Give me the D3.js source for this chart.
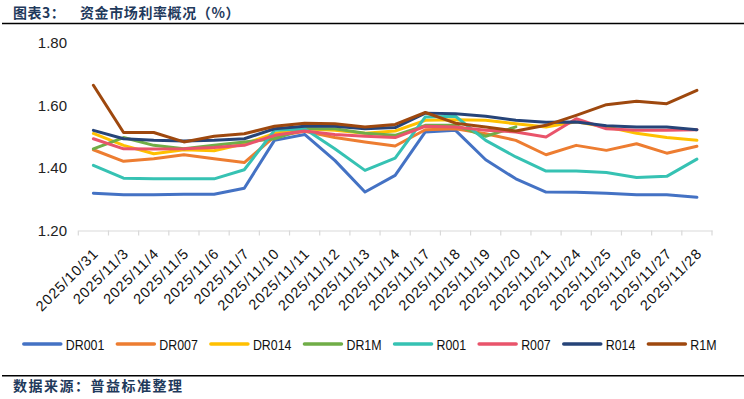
<!DOCTYPE html>
<html><head><meta charset="utf-8">
<script src="https://cdn.jsdelivr.net/npm/d3@7/dist/d3.min.js"></script>
<style>
body{margin:0;background:#fff;}
svg{display:block;}
</style></head>
<body>
<svg id="chart" width="744" height="399"></svg>
<script>
const categories = ["2025/10/31","2025/11/3","2025/11/4","2025/11/5","2025/11/6","2025/11/7","2025/11/10","2025/11/11","2025/11/12","2025/11/13","2025/11/14","2025/11/17","2025/11/18","2025/11/19","2025/11/20","2025/11/21","2025/11/24","2025/11/25","2025/11/26","2025/11/27","2025/11/28"];
const seriesNames = ["DR001","DR007","DR014","DR1M","R001","R007","R014","R1M"];
const DR001 = [1.319,1.314,1.314,1.316,1.316,1.335,1.488,1.507,1.424,1.323,1.376,1.515,1.520,1.426,1.365,1.323,1.322,1.319,1.314,1.314,1.306];
const DR007 = [1.458,1.421,1.429,1.442,1.429,1.417,1.500,1.517,1.497,1.483,1.470,1.522,1.525,1.509,1.488,1.442,1.472,1.456,1.477,1.447,1.469];
const DR014 = [1.510,1.472,1.445,1.458,1.455,1.477,1.510,1.525,1.520,1.511,1.518,1.552,1.554,1.552,1.541,1.531,1.547,1.531,1.511,1.497,1.488];
const DR1M  = [1.461,1.497,1.472,1.461,1.472,1.483,1.493,1.525,1.525,1.511,1.504,1.536,1.536,1.501,1.531,null,null,null,null,null,null];
const R001  = [1.408,1.367,1.365,1.365,1.365,1.394,1.520,1.525,1.461,1.392,1.431,1.563,1.565,1.488,1.435,1.390,1.390,1.385,1.369,1.373,1.428];
const R007  = [1.493,1.461,1.460,1.461,1.465,1.472,1.504,1.518,1.507,1.501,1.497,1.533,1.531,1.520,1.515,1.499,1.557,1.525,1.520,1.520,1.522];
const R014  = [1.520,1.493,1.488,1.486,1.488,1.493,1.525,1.533,1.533,1.525,1.529,1.575,1.573,1.565,1.552,1.546,1.547,1.535,1.531,1.531,1.522];
const R1M   = [1.664,1.513,1.513,1.483,1.501,1.509,1.533,1.543,1.541,1.531,1.539,1.577,1.543,1.531,1.518,1.536,1.568,1.602,1.613,1.605,1.648];
const yTicks = [1.20,1.40,1.60,1.80];
const colors = ["#4472C4","#ED7D31","#FFC000","#70AD47","#36C2B3","#E9546B","#264478","#9E480E"];
const title1 = "图表3：";
const title2 = "资金市场利率概况（%）";
const source = "数据来源：普益标准整理";

const seriesValues = [DR001,DR007,DR014,DR1M,R001,R007,R014,R1M];
const series = seriesNames.map((n,i)=>({name:n,values:seriesValues[i],color:colors[i]}));

const svg = d3.select("#chart");
const W = 744;
const plot = {left:78.3, right:712, top:42.7, bottom:230.5};

const x = d3.scaleBand().domain(categories).range([plot.left, plot.right]).padding(0);
const y = d3.scaleLinear().domain([1.2,1.8]).range([plot.bottom, plot.top]);

// Title
const tt = svg.append("text").attr("y",18).attr("font-family","'Noto Sans CJK SC',sans-serif")
  .attr("font-weight","bold").attr("font-size",14).attr("fill","#1f3a5c");
tt.append("tspan").attr("x",13).attr("letter-spacing",0.5).text(title1);
tt.append("tspan").attr("x",80).attr("letter-spacing",0.6).text(title2);
svg.append("line").attr("x1",2).attr("x2",W).attr("y1",23.5).attr("y2",23.5)
  .attr("stroke","#000").attr("stroke-width",1.5);

// Y axis labels
const yAxis = d3.axisLeft(y).tickValues(yTicks).tickFormat(d3.format(".2f")).tickSize(0).tickPadding(0);
const yg = svg.append("g").attr("transform",`translate(${67},0)`).call(yAxis);
yg.select(".domain").remove();
yg.selectAll("text").attr("font-family","'Liberation Sans',Arial,sans-serif").attr("font-size",15).attr("fill","#222");

// X axis
const xAxis = d3.axisBottom(x).tickSize(0).tickFormat(d=>d);
const xg = svg.append("g").attr("transform",`translate(0,${plot.bottom})`).call(xAxis);
xg.select(".domain").attr("stroke","#d9d9d9").attr("stroke-width",1.2);
xg.selectAll(".tick line").remove();
const bounds = categories.map(c=>x(c)).concat([x(categories[categories.length-1])+x.bandwidth()]);
xg.selectAll(".bt").data(bounds).enter().append("line").attr("class","bt")
  .attr("x1",d=>d).attr("x2",d=>d).attr("y1",0).attr("y2",5)
  .attr("stroke","#d9d9d9").attr("stroke-width",1.2);
xg.selectAll(".tick text")
  .attr("font-family","'Liberation Sans',Arial,sans-serif").attr("font-size",14.5).attr("fill","#111")
  .attr("letter-spacing",0.9)
  .attr("text-anchor","end").attr("dy",0).attr("y",0)
  .attr("transform","translate(6,24) rotate(-45)");

// Lines
const line = d3.line().defined(d=>d.v!=null).x(d=>x(d.c)+x.bandwidth()/2).y(d=>y(d.v));
svg.append("g").selectAll("path").data(series).enter().append("path")
  .attr("d",s=>line(s.values.map((v,i)=>({c:categories[i],v}))))
  .attr("fill","none").attr("stroke",s=>s.color).attr("stroke-width",3)
  .attr("stroke-linejoin","round").attr("stroke-linecap","round");

// Legend
const sx = 0.8;
const lg = svg.append("g");
const items = lg.selectAll("g").data(series).enter().append("g");
items.append("line").attr("x1",0).attr("x2",37).attr("y1",0).attr("y2",0)
  .attr("stroke",s=>s.color).attr("stroke-width",3.5).attr("stroke-linecap","round");
items.append("text").attr("transform",`translate(42,5.8) scale(${sx},1)`).text(s=>s.name)
  .attr("font-family","'Liberation Sans',Arial,sans-serif").attr("font-size",15.5).attr("fill","#111");
let cx = 0; const pos = [];
items.each(function(){ const tw = d3.select(this).select("text").node().getComputedTextLength()*sx; pos.push(cx); cx += 42 + tw + 13; });
const total = cx - 13;
const startX = 28.3 + (683.7 - total)/2;
items.attr("transform",(d,i)=>`translate(${startX+pos[i]},344)`);

// Footer
svg.append("line").attr("x1",2).attr("x2",W).attr("y1",375.7).attr("y2",375.7)
  .attr("stroke","#000").attr("stroke-width",1.5);
svg.append("text").attr("x",13).attr("y",391).attr("font-family","'Noto Sans CJK SC',sans-serif")
  .attr("font-weight","bold").attr("font-size",14).attr("letter-spacing",1.5).attr("fill","#1f3a5c").text(source);
</script>
</body></html>
